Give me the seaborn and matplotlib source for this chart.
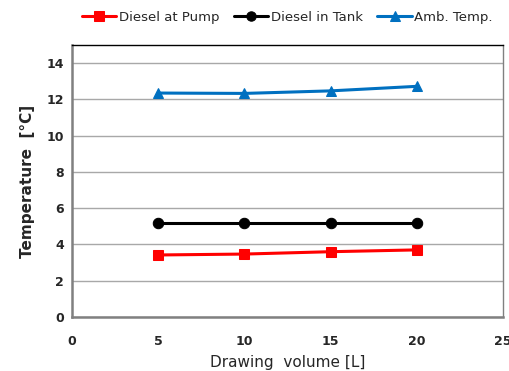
import matplotlib
matplotlib.use("Agg")
import matplotlib.pyplot as plt
import seaborn as sns
import pandas as pd

# data
volume = [5, 10, 15, 20]
diesel_pump = [3.42, 3.47, 3.60, 3.70]
diesel_tank = [5.20, 5.20, 5.20, 5.20]
amb_temp = [12.35, 12.33, 12.47, 12.72]

series_names = ["Diesel at Pump", "Diesel in Tank", "Amb. Temp."]
series_colors = ["#ff0000", "#000000", "#0070c0"]
series_markers = ["s", "o", "^"]

df = pd.DataFrame({
    "volume": volume * 3,
    "temp": diesel_pump + diesel_tank + amb_temp,
    "series": [s for s in series_names for _ in volume],
})

sns.set_style("white")
plt.rcParams["font.family"] = ["DejaVu Sans"]

fig = plt.figure(figsize=(5.09, 3.71), dpi=100)
ax = fig.add_axes([0.1415, 0.1456, 0.8465, 0.7331])

for name, color, marker in zip(series_names, series_colors, series_markers):
    sub = df[df["series"] == name]
    sns.lineplot(data=sub, x="volume", y="temp", ax=ax, color=color,
                 marker=marker, markersize=7.5, markeredgecolor=color,
                 linewidth=2.2, label=name)

ax.set_xlim(0, 25)
ax.set_ylim(0, 15)
ax.set_xticks([0, 5, 10, 15, 20, 25])
ax.set_yticks(range(0, 15, 2))
ax.yaxis.grid(True, color="#a8a8a8", linewidth=1.0)
ax.set_axisbelow(True)

for lbl in ax.get_xticklabels() + ax.get_yticklabels():
    lbl.set_fontweight("bold")
    lbl.set_fontsize(9)
ax.tick_params(axis="x", pad=13, length=0)
ax.tick_params(axis="y", pad=6, length=0)

ax.set_xlabel("Drawing  volume [L]", fontsize=11, labelpad=5)
ax.set_ylabel("Temperature  [°C]", fontsize=11, fontweight="bold", labelpad=8)

for side in ["left", "bottom"]:
    ax.spines[side].set_color("#808080")
    ax.spines[side].set_linewidth(1.8)
ax.spines["right"].set_color("#808080")
ax.spines["right"].set_linewidth(1.0)
ax.spines["top"].set_color("#000000")
ax.spines["top"].set_linewidth(1.0)

ax.legend(loc="lower center", bbox_to_anchor=(0.5, 1.0), ncol=3, frameon=False,
          fontsize=9.5, handlelength=2.6, handletextpad=0.2, columnspacing=1.1,
          borderaxespad=1.2, markerscale=0.9)

fig.savefig("out.png", dpi=100)
